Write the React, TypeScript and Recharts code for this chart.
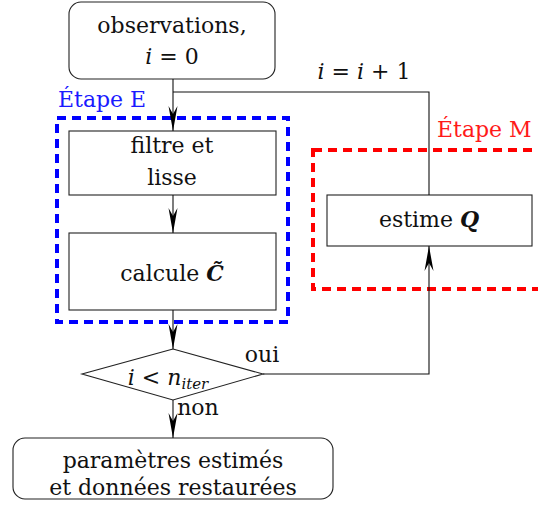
import { ComposedChart, XAxis, YAxis, Line, Scatter, ReferenceArea } from 'recharts';

const W = 538;
const H = 515;
const FONT = '"DejaVu Serif", serif';
const FS = 22;

// process boxes, page pixel units
const boxes = [
  { name: 'observations', x1: 69, x2: 275, y1: 2, y2: 79, rounded: true },
  { name: 'filtre', x1: 69, x2: 276, y1: 131, y2: 195, rounded: false },
  { name: 'calcule', x1: 69, x2: 276, y1: 233, y2: 310, rounded: false },
  { name: 'estime', x1: 327, x2: 532, y1: 195, y2: 246, rounded: false },
  { name: 'resultat', x1: 13, x2: 333, y1: 438, y2: 499, rounded: true },
];

// dashed groups for the two EM steps
const stages = [
  { name: 'E', x1: 57, x2: 288, y1: 118, y2: 322 },
  { name: 'M', x1: 313, x2: 560, y1: 150, y2: 289 },
];

// decision node i < n_iter
const diamond = [
  { x: 173, y: 349 },
  { x: 263, y: 374 },
  { x: 173, y: 400 },
  { x: 82, y: 374 },
  { x: 173, y: 349 },
];

const edges = [
  [{ x: 173, y: 79 }, { x: 173, y: 131 }],
  [{ x: 173, y: 195 }, { x: 173, y: 233 }],
  [{ x: 173, y: 310 }, { x: 173, y: 349 }],
  [{ x: 173, y: 400 }, { x: 173, y: 438 }],
  [{ x: 263, y: 374 }, { x: 429, y: 374 }, { x: 429, y: 246 }],
  [{ x: 429, y: 195 }, { x: 429, y: 92 }, { x: 173, y: 92 }],
];

const arrowTips = [
  { x: 173, y: 131, dir: 1 },
  { x: 173, y: 233, dir: 1 },
  { x: 173, y: 349, dir: 1 },
  { x: 173, y: 438, dir: 1 },
  { x: 429, y: 246, dir: -1 },
];

type Part = { t: string; it?: boolean; bold?: boolean; sub?: boolean };

const labels: { x: number; y: number; anchor: string; tone: string; parts: Part[] }[] = [
  { x: 172, y: 33, anchor: 'middle', tone: 'k', parts: [{ t: 'observations,' }] },
  { x: 172, y: 64, anchor: 'middle', tone: 'k', parts: [{ t: 'i', it: true }, { t: ' = 0' }] },
  { x: 58, y: 107, anchor: 'start', tone: 'E', parts: [{ t: 'Étape E' }] },
  { x: 437, y: 137, anchor: 'start', tone: 'M', parts: [{ t: 'Étape M' }] },
  { x: 364, y: 79, anchor: 'middle', tone: 'k', parts: [{ t: 'i', it: true }, { t: ' = ' }, { t: 'i', it: true }, { t: ' + 1' }] },
  { x: 172, y: 153, anchor: 'middle', tone: 'k', parts: [{ t: 'filtre et' }] },
  { x: 172, y: 185, anchor: 'middle', tone: 'k', parts: [{ t: 'lisse' }] },
  { x: 172, y: 281, anchor: 'middle', tone: 'k', parts: [{ t: 'calcule ' }, { t: 'C\u0303', it: true, bold: true }] },
  { x: 429, y: 227, anchor: 'middle', tone: 'k', parts: [{ t: 'estime ' }, { t: 'Q', it: true, bold: true }] },
  { x: 168, y: 385, anchor: 'middle', tone: 'k', parts: [{ t: 'i', it: true }, { t: ' < ' }, { t: 'n', it: true }, { t: 'iter', it: true, sub: true }] },
  { x: 262, y: 362, anchor: 'middle', tone: 'k', parts: [{ t: 'oui' }] },
  { x: 198, y: 415, anchor: 'middle', tone: 'k', parts: [{ t: 'non' }] },
  { x: 173, y: 468, anchor: 'middle', tone: 'k', parts: [{ t: 'paramètres estimés' }] },
  { x: 173, y: 495, anchor: 'middle', tone: 'k', parts: [{ t: 'et données restaurées' }] },
];

const toneColor: Record<string, string> = { k: '#111', E: '#1a1aff', M: '#ff1a1a' };
const stageColor: Record<string, string> = { E: '#0000ff', M: '#ff0000' };

function Arrow(props: any) {
  const { cx, cy, payload } = props;
  const d = payload.dir;
  // stealth-like head, tip at (cx, cy)
  const pts = [
    [cx, cy],
    [cx - 4.5, cy - d * 25],
    [cx, cy - d * 17],
    [cx + 4.5, cy - d * 25],
  ];
  return <polygon points={pts.map((p) => p.join(',')).join(' ')} fill="#000" />;
}

function Label(props: any) {
  const { cx, cy, payload } = props;
  return (
    <text
      x={cx}
      y={cy}
      textAnchor={payload.anchor}
      fontFamily={FONT}
      fontSize={FS}
      fill={toneColor[payload.tone]}
      style={{ whiteSpace: 'pre' }}
    >
      {payload.parts.map((p: Part, i: number) => (
        <tspan
          key={i}
          fontStyle={p.it ? 'italic' : 'normal'}
          fontWeight={p.bold ? 'bold' : 'normal'}
          fontSize={p.sub ? 15 : FS}
          dy={p.sub ? 4 : 0}
        >
          {p.t}
        </tspan>
      ))}
    </text>
  );
}

export default function App() {
  return (
    <div style={{ position: 'absolute', left: 0, top: 0, background: '#fff' }}>
      <ComposedChart width={W} height={H} margin={{ top: 0, right: 0, bottom: 0, left: 0 }}>
        <XAxis type="number" dataKey="x" domain={[0, W]} allowDataOverflow hide />
        <YAxis type="number" dataKey="y" domain={[0, H]} reversed allowDataOverflow hide />

        {stages.map((s) => (
          <ReferenceArea
            key={s.name}
            x1={s.x1}
            x2={s.x2}
            y1={s.y1}
            y2={s.y2}
            ifOverflow="visible"
            shape={(p: any) => (
              <rect
                x={p.x}
                y={p.y}
                width={p.width}
                height={p.height}
                fill="none"
                stroke={stageColor[s.name]}
                strokeWidth={4}
                strokeDasharray="9 6"
              />
            )}
          />
        ))}

        {boxes.map((b) => (
          <ReferenceArea
            key={b.name}
            x1={b.x1}
            x2={b.x2}
            y1={b.y1}
            y2={b.y2}
            ifOverflow="visible"
            shape={(p: any) => (
              <rect
                x={p.x}
                y={p.y}
                width={p.width}
                height={p.height}
                rx={b.rounded ? 12 : 0}
                fill="none"
                stroke="#222"
                strokeWidth={1.1}
              />
            )}
          />
        ))}

        <Line
          data={diamond}
          dataKey="y"
          type="linear"
          stroke="#222"
          strokeWidth={1.1}
          dot={false}
          activeDot={false}
          isAnimationActive={false}
        />

        {edges.map((e, i) => (
          <Line
            key={i}
            data={e}
            dataKey="y"
            type="linear"
            stroke="#111"
            strokeWidth={1.1}
            dot={false}
            activeDot={false}
            isAnimationActive={false}
          />
        ))}

        <Scatter data={arrowTips} dataKey="y" shape={Arrow} isAnimationActive={false} />
        <Scatter data={labels} dataKey="y" shape={Label} isAnimationActive={false} />
      </ComposedChart>
    </div>
  );
}
